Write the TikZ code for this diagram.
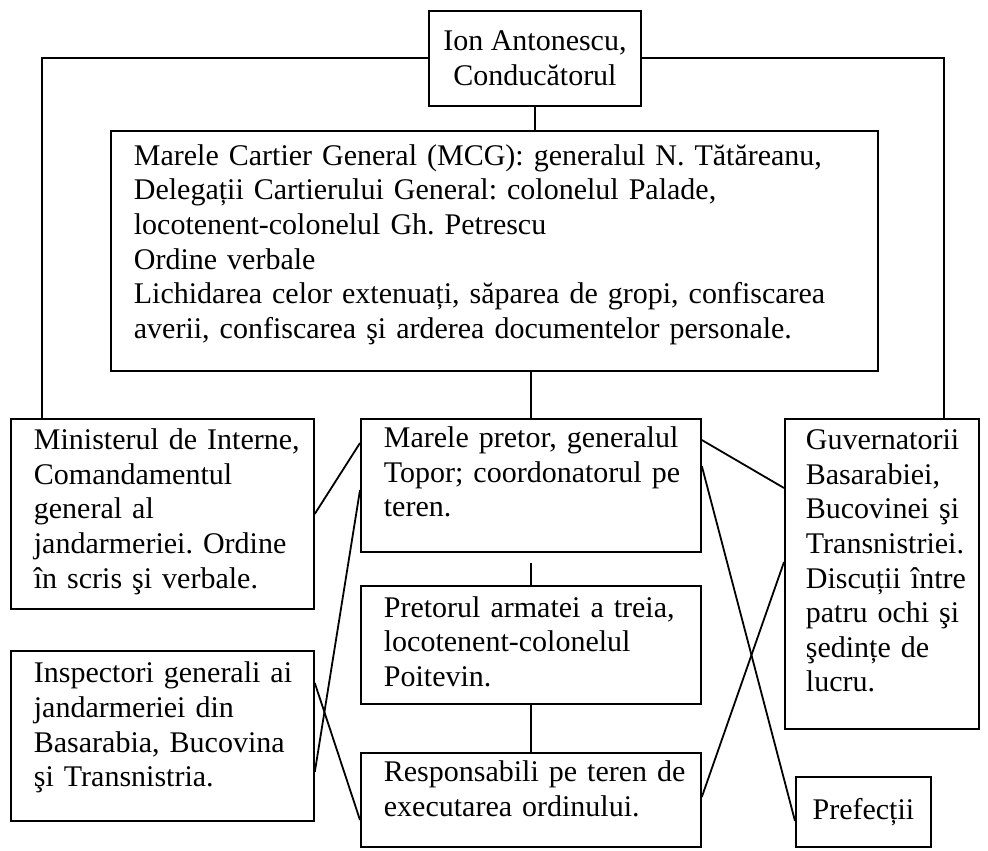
\documentclass[tikz,border=0pt]{standalone}
\usepackage{fontspec}
\setmainfont{Liberation Serif}
\usetikzlibrary{positioning, calc}

\newcommand{\corp}{\fontsize{15}{17.3}\selectfont\frenchspacing}
% randuri fixe, fara despartire automata
\newcommand{\linii}[1]{\begin{tabular}{@{}l@{}}#1\end{tabular}}

\tikzset{
  caseta/.style={draw, line width=0.9pt, rectangle, anchor=north west, align=left, inner xsep=11.5pt, inner ysep=0pt, font=\corp},
  legatura/.style={line width=0.9pt}
}

\begin{document}
\begin{tikzpicture}[x=0.5pt,y=-0.5pt]

            % Cadrul desenului
            \useasboundingbox (0,0) rectangle (988,850);

            % Varful ierarhiei
            \node[caseta, align=center, inner xsep=4pt, minimum width=106pt, minimum height=47.5pt] (ion) at (428,10) {Ion Antonescu,\\ Conducătorul};

            % Marele Cartier General
            \node[caseta, text width=360.5pt, minimum height=120pt] (mcg) at (110,130) {\linii{Marele Cartier General (MCG): generalul N. Tătăreanu,\\ Delegații Cartierului General: colonelul Palade,\\ locotenent-colonelul Gh. Petrescu\\ Ordine verbale\\ Lichidarea celor extenuați, săparea de gropi, confiscarea\\ averii, confiscarea şi arderea documentelor personale.\\[6pt]}};

            % Coloana din stanga
            \node[caseta, text width=128.5pt, minimum height=95pt] (min) at (10,418) {\linii{Ministerul de Interne,\\ Comandamentul\\ general al\\ jandarmeriei. Ordine\\ în scris şi verbale.\\[2pt]}};
            \node[caseta, text width=128.5pt, minimum height=85pt] (insp) at (10,650) {\linii{Inspectori generali ai\\ jandarmeriei din\\ Basarabia, Bucovina\\ şi Transnistria.\\[8pt]}};

            % Coloana din mijloc
            \node[caseta, text width=147pt, minimum height=66.5pt] (pretor) at (360,418) {\linii{Marele pretor, generalul\\ Topor; coordonatorul pe\\ teren.\\[10pt]}};
            \node[caseta, text width=147pt, minimum height=59pt] (pret3) at (360,585) {\linii{Pretorul armatei a treia,\\ locotenent-colonelul\\ Poitevin.}};
            \node[caseta, text width=147pt, minimum height=47pt] (resp) at (360,752) {\linii{Responsabili pe teren de\\ executarea ordinului.\\[8pt]}};

            % Coloana din dreapta
            \node[caseta, inner xsep=10.5pt, text width=76pt, minimum height=155pt] (guv) at (784,418) {\linii{Guvernatorii\\ Basarabiei,\\ Bucovinei şi\\ Transnistriei.\\ Discuții între\\ patru ochi şi\\ şedințe de\\ lucru.\\[10pt]}};
            \node[caseta, align=center, inner xsep=4pt, minimum width=67.5pt, minimum height=35pt] (pref) at (795,776) {Prefecții};

            % Legaturile drepte
            \draw[legatura] (ion.west) -| ($(min.north west)+(32,0)$);
            \draw[legatura] (ion.east) -| ($(guv.north east)+(-36,0)$);
            \draw[legatura] (ion.south) -- (ion.south |- mcg.north);
            \draw[legatura] (pretor.north) -- (pretor.north |- mcg.south);
            \draw[legatura, shorten <=5pt] (pretor.south) -- (pret3.north);
            \draw[legatura] (pret3.south) -- (resp.north);

            % Legaturile oblice
            \draw[legatura] (min.east) -- ($(pretor.north west)+(0,25)$);
            \draw[legatura] ($(pretor.north west)+(0,72)$) -- ($(insp.north east)+(0,122)$);
            \draw[legatura] ($(insp.north east)+(0,33)$) -- ($(resp.north west)+(0,68)$);
            \draw[legatura] ($(pretor.north east)+(0,22)$) -- ($(guv.north west)+(0,70)$);
            \draw[legatura] ($(pretor.north east)+(0,48)$) -- ($(pref.north west)+(0,45)$);
            \draw[legatura] ($(resp.north east)+(0,45)$) -- ($(guv.north west)+(0,144)$);

            \end{tikzpicture}
\end{document}
